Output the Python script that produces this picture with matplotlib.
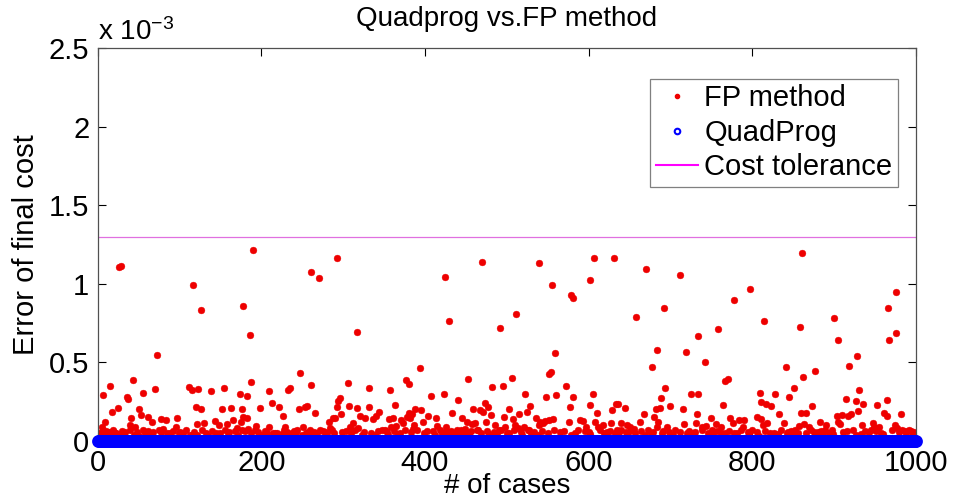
import numpy as np
import matplotlib
matplotlib.use("Agg")
import matplotlib.pyplot as plt
from matplotlib.lines import Line2D

plt.rcParams["font.family"] = ["Liberation Sans", "DejaVu Sans"]
plt.rcParams["mathtext.fontset"] = "custom"
plt.rcParams["mathtext.rm"] = "Liberation Sans"
plt.rcParams["mathtext.it"] = "Liberation Sans"

# Case numbers and final-cost errors (units of 1e-3) for the FP method
fp_cases = [
    # larger errors
    26, 29, 117, 126, 190, 178, 186, 261, 270, 293, 317, 425, 429, 470, 491, 511,
    539, 555, 578, 581, 602, 607, 631, 658, 670, 692, 712, 733, 758, 777, 797, 814,
    858, 861, 900, 904, 966, 967, 975, 976,
    # cases 0-130
    73, 43, 15, 7, 70, 55, 36, 37, 112, 115, 123, 25, 17, 51, 53, 41, 62, 66, 78, 83,
    97, 120, 121, 9, 5, 40, 46, 56, 80, 96, 100, 4, 12, 20, 26, 32, 44, 50, 64, 77,
    89, 101, 113,
    # cases 120-250
    247, 187, 138, 154, 174, 183, 209, 235, 233, 126, 152, 163, 176, 199, 213, 222,
    226, 246, 253, 143, 148, 158, 166, 178, 182, 175, 194, 130, 184, 177, 170, 210,
    214, 229, 238, 242, 145, 159, 171, 201, 207, 217, 225, 122, 135, 250,
    # cases 250-380
    261, 306, 331, 357, 377, 296, 294, 256, 266, 292, 297, 290, 307, 317, 320, 327,
    332, 336, 344, 340, 363, 356, 361, 371, 378, 381, 312, 308, 318, 283, 288, 251,
    257, 262, 268, 272, 278, 284, 289, 351, 359, 365, 373, 323, 339, 355, 367,
    # cases 380-510
    394, 381, 453, 482, 495, 506, 407, 423, 440, 388, 395, 384, 382, 404, 413, 433,
    459, 467, 473, 477, 471, 480, 502, 496, 507, 445, 451, 457, 461, 398, 386, 385,
    415, 426, 429, 439, 449, 441, 474, 465, 486, 490, 498, 412, 421, 454, 478, 488,
    503,
    # cases 510-640
    559, 552, 554, 572, 522, 548, 560, 581, 605, 577, 601, 633, 629, 528, 524, 515,
    535, 540, 546, 551, 556, 576, 589, 593, 597, 610, 608, 611, 618, 627, 635, 510,
    513, 521, 526, 539, 544, 530, 538, 578, 602, 619, 518,
    # cases 635-765
    683, 719, 677, 742, 766, 693, 688, 725, 734, 636, 644, 699, 682, 687, 715, 732,
    749, 764, 668, 663, 680, 685, 684, 696, 717, 731, 743, 739, 756, 761, 640, 647,
    651, 637, 648, 655, 679, 689, 703, 720, 727, 752, 762, 669,
    # cases 765-890
    841, 877, 862, 770, 851, 809, 828, 845, 811, 817, 823, 873, 859, 866, 833, 806,
    810, 772, 776, 784, 790, 788, 813, 818, 838, 857, 863, 869, 882, 890, 767, 778,
    796, 821, 831, 842, 849, 856, 875, 886, 808,
    # cases 885-1000
    928, 918, 930, 914, 926, 935, 964, 952, 929, 982, 903, 909, 917, 920, 961, 965,
    905, 907, 934, 947, 949, 955, 974, 977, 915, 889, 895, 899, 945, 959, 983, 988,
    994, 996, 927, 933,
    # errors close to zero
    3, 10, 14, 19, 23, 30, 34, 39, 48, 58, 61, 68, 75, 85, 92, 104, 108, 118, 128,
    133, 140, 150, 156, 161, 168, 180, 188, 192, 196, 205, 219, 228, 231, 240, 244,
    254, 259, 264, 275, 280, 286, 299, 303, 310, 314, 326, 334, 342, 348, 353, 362,
    369, 375, 383, 390, 399, 403, 410, 418, 424, 432, 436, 444, 448, 456, 463, 469,
    476, 484, 493, 500, 509, 517, 527, 533, 543, 550, 557, 565, 570, 583, 587, 595,
    600, 614, 622, 626, 632, 640, 645, 653, 657, 664, 672, 676, 691, 698, 706, 711,
    723, 730, 738, 746, 750, 757, 771, 781, 786, 794, 800, 805, 815, 826, 835, 843,
    847, 852, 865, 871, 880, 884, 893, 897, 911, 923, 938, 942, 951, 957, 970, 979,
    986, 991, 998,
]

fp_errors = [
    1.110, 1.115, 0.990, 0.836, 1.217, 0.861, 0.675, 1.072, 1.037, 1.163, 0.696, 1.041, 0.764, 1.139, 0.720, 0.810,
    1.132, 0.990, 0.930, 0.910, 1.025, 1.167, 1.163, 0.789, 1.091, 0.847, 1.056, 0.671, 0.710, 0.900, 0.969, 0.762,
    0.725, 1.199, 0.782, 0.644, 0.843, 0.640, 0.950, 0.690,
    0.548, 0.389, 0.352, 0.291, 0.329, 0.304, 0.282, 0.265, 0.346, 0.325, 0.331, 0.208, 0.187, 0.202, 0.166, 0.149, 0.155, 0.123, 0.138, 0.134,
    0.149, 0.214, 0.108, 0.123, 0.091, 0.102, 0.091, 0.070, 0.074, 0.091, 0.049, 0.049, 0.053, 0.059, 0.045, 0.049, 0.038, 0.034, 0.045, 0.059,
    0.049, 0.059, 0.038,
    0.431, 0.378, 0.318, 0.340, 0.299, 0.287, 0.318, 0.340, 0.325, 0.204, 0.204, 0.208, 0.204, 0.212, 0.240, 0.219,
    0.161, 0.202, 0.219, 0.130, 0.102, 0.106, 0.134, 0.155, 0.144, 0.123, 0.098, 0.113, 0.074, 0.070, 0.081, 0.091,
    0.053, 0.087, 0.049, 0.059, 0.049, 0.038, 0.038, 0.038, 0.049, 0.053, 0.045, 0.038, 0.032, 0.038,
    0.357, 0.367, 0.335, 0.325, 0.389, 0.276, 0.255, 0.223, 0.180, 0.219, 0.172, 0.144, 0.223, 0.212, 0.161, 0.144,
    0.219, 0.138, 0.187, 0.161, 0.229, 0.140, 0.144, 0.134, 0.155, 0.176, 0.113, 0.091, 0.081, 0.123, 0.144, 0.091,
    0.059, 0.053, 0.049, 0.070, 0.055, 0.081, 0.049, 0.070, 0.091, 0.096, 0.113, 0.038, 0.038, 0.038, 0.045,
    0.463, 0.363, 0.393, 0.346, 0.350, 0.399, 0.289, 0.299, 0.261, 0.202, 0.197, 0.172, 0.144, 0.161, 0.144, 0.176,
    0.202, 0.197, 0.240, 0.219, 0.187, 0.166, 0.202, 0.155, 0.138, 0.144, 0.123, 0.108, 0.117, 0.123, 0.102, 0.074,
    0.096, 0.087, 0.049, 0.070, 0.074, 0.038, 0.123, 0.070, 0.102, 0.070, 0.091, 0.038, 0.045, 0.049, 0.045, 0.038,
    0.049,
    0.558, 0.425, 0.437, 0.352, 0.297, 0.282, 0.293, 0.282, 0.299, 0.219, 0.227, 0.236, 0.197, 0.223, 0.187, 0.170,
    0.149, 0.123, 0.130, 0.134, 0.138, 0.121, 0.134, 0.130, 0.087, 0.176, 0.123, 0.091, 0.102, 0.117, 0.070, 0.102,
    0.081, 0.087, 0.070, 0.102, 0.113, 0.049, 0.038, 0.038, 0.045, 0.053, 0.038,
    0.577, 0.569, 0.471, 0.503, 0.382, 0.338, 0.276, 0.299, 0.299, 0.236, 0.208, 0.223, 0.206, 0.208, 0.204, 0.170,
    0.149, 0.231, 0.170, 0.123, 0.155, 0.123, 0.091, 0.091, 0.108, 0.117, 0.098, 0.091, 0.108, 0.091, 0.113, 0.102,
    0.091, 0.059, 0.049, 0.074, 0.059, 0.049, 0.038, 0.049, 0.049, 0.038, 0.049, 0.038,
    0.471, 0.448, 0.406, 0.395, 0.340, 0.304, 0.299, 0.282, 0.251, 0.236, 0.223, 0.225, 0.176, 0.180, 0.172, 0.155,
    0.138, 0.144, 0.117, 0.134, 0.134, 0.087, 0.102, 0.113, 0.117, 0.096, 0.108, 0.091, 0.123, 0.102, 0.049, 0.053,
    0.045, 0.049, 0.045, 0.053, 0.059, 0.049, 0.059, 0.049, 0.034,
    0.539, 0.480, 0.325, 0.270, 0.257, 0.236, 0.261, 0.231, 0.191, 0.172, 0.159, 0.166, 0.161, 0.172, 0.176, 0.159,
    0.123, 0.108, 0.102, 0.113, 0.091, 0.087, 0.102, 0.081, 0.066, 0.070, 0.053, 0.045, 0.070, 0.045, 0.070, 0.053,
    0.066, 0.045, 0.038, 0.045,
    0.052, 0.065, 0.058, 0.070, 0.048, 0.062, 0.055, 0.068, 0.060, 0.050, 0.066, 0.057, 0.071, 0.053, 0.064, 0.049, 0.067, 0.059, 0.069,
    0.054, 0.063, 0.051, 0.070, 0.056, 0.065, 0.061, 0.052, 0.068, 0.058, 0.066, 0.050, 0.071, 0.055, 0.062, 0.067,
    0.053, 0.069, 0.059, 0.064, 0.051, 0.070, 0.057, 0.066, 0.054, 0.068, 0.060, 0.052, 0.065, 0.071, 0.056, 0.063,
    0.050, 0.067, 0.058, 0.069, 0.053, 0.064, 0.061, 0.070, 0.055, 0.066, 0.051, 0.068, 0.059, 0.062, 0.071, 0.054,
    0.065, 0.057, 0.069, 0.052, 0.067, 0.060, 0.070, 0.056, 0.064, 0.050, 0.068, 0.058, 0.066, 0.053, 0.071, 0.062,
    0.055, 0.069, 0.059, 0.065, 0.051, 0.067, 0.057, 0.070, 0.054, 0.063, 0.068, 0.052, 0.066, 0.060, 0.071, 0.056,
    0.064, 0.058, 0.069, 0.050, 0.067, 0.061, 0.065, 0.053, 0.070, 0.055, 0.068, 0.059, 0.066, 0.051, 0.071, 0.057,
    0.063, 0.069, 0.054, 0.067, 0.060, 0.065, 0.052, 0.070, 0.056, 0.068, 0.062, 0.058, 0.066, 0.053, 0.071, 0.059,
    0.064, 0.069, 0.055,
]

# QuadProg reaches the optimum in every case
quad_cases = np.arange(1, 1001)
quad_errors = np.zeros(1000)

cost_tolerance = 1.3  # units of 1e-3
x_limits = (0, 1000)
y_limits = (0, 2.5)
x_ticks = [0, 200, 400, 600, 800, 1000]
y_ticks = [0, 0.5, 1, 1.5, 2, 2.5]
y_tick_labels = ["0", "0.5", "1", "1.5", "2", "2.5"]

fig = plt.figure(figsize=(9.56, 5.0), dpi=100)
ax = fig.add_axes([0.1021, 0.118, 0.8562, 0.786])

ax.plot(fp_cases, fp_errors, linestyle="none", marker="o", markersize=4.9,
        markerfacecolor="#ee0000", markeredgecolor="#ee0000", markeredgewidth=0.3)
ax.plot(quad_cases, quad_errors, linestyle="none", marker="o", markersize=7,
        markerfacecolor="none", markeredgecolor="#0000ff", markeredgewidth=2.2,
        clip_on=False, zorder=4)
ax.plot(x_limits, [cost_tolerance, cost_tolerance], color="#e070e0", linewidth=0.9)

ax.set_xlim(*x_limits)
ax.set_ylim(*y_limits)
ax.set_xticks(x_ticks)
ax.set_yticks(y_ticks)
ax.set_yticklabels(y_tick_labels)
ax.tick_params(direction="in", length=6, width=0.8, top=True, right=True,
               labelsize=21, pad=6, colors="#000000")
for s in ax.spines.values():
    s.set_color("#505050")
    s.set_linewidth(0.9)

ax.set_title("Quadprog vs.FP method", fontsize=20, pad=16)
ax.set_xlabel("# of cases", fontsize=20, labelpad=-3)
ax.set_ylabel("Error of final cost", fontsize=21, labelpad=6)
ax.text(0.0, 1.005, r"x 10$^{-3}$", transform=ax.transAxes, fontsize=20,
        ha="left", va="bottom")

handles = [
    Line2D([], [], linestyle="none", marker="o", markersize=3,
           markerfacecolor="#ee0000", markeredgecolor="#ee0000"),
    Line2D([], [], linestyle="none", marker="o", markersize=4,
           markerfacecolor="none", markeredgecolor="#0000ff", markeredgewidth=1.5),
    Line2D([], [], color="#ff00ff", linewidth=1.5),
]
leg = ax.legend(handles, ["FP method", "QuadProg", "Cost tolerance"],
                loc="upper right", bbox_to_anchor=(0.978, 0.922), fontsize=21,
                frameon=True, fancybox=False, handlelength=1.45, handletextpad=0.2,
                borderpad=0.2, labelspacing=0.22, borderaxespad=0)
leg.get_frame().set_edgecolor("#606060")
leg.get_frame().set_linewidth(0.9)

fig.savefig("out.png", dpi=100)
